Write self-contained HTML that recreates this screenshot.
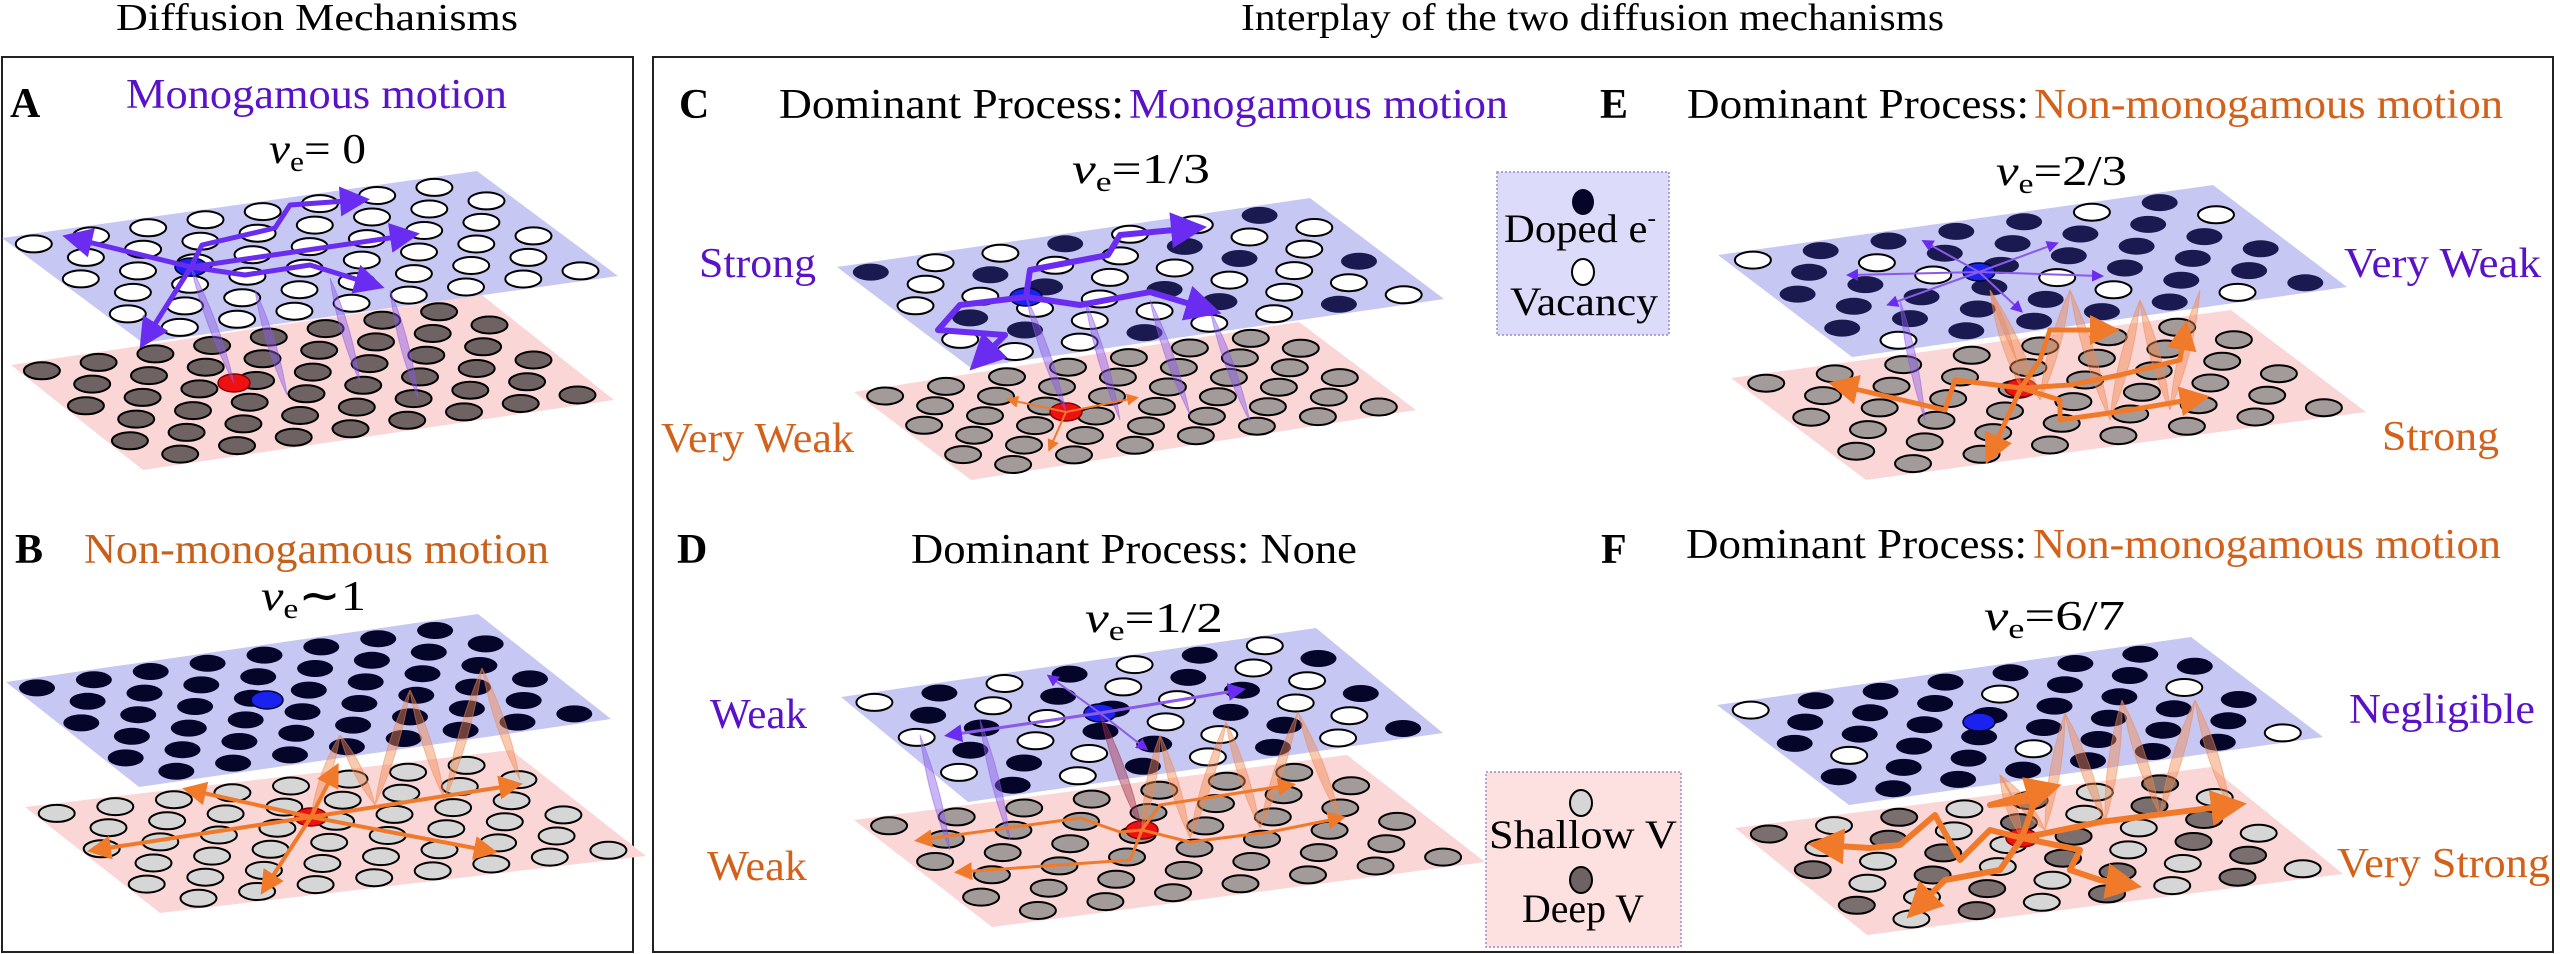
<!DOCTYPE html>
<html><head><meta charset="utf-8">
<style>
html,body{margin:0;padding:0;background:#fff;}
svg{display:block;}
svg text{font-family:"Liberation Serif","DejaVu Serif","Times New Roman",serif !important;}
</style></head>
<body>
<svg id="s" width="2560" height="954" viewBox="0 0 2560 954" xmlns="http://www.w3.org/2000/svg" font-family="Liberation Serif, DejaVu Serif, serif">
<defs>
<marker id="ap" markerWidth="6" markerHeight="6" refX="4" refY="3" orient="auto" markerUnits="strokeWidth"><path d="M0,0 L6,3 L0,6 z" fill="#6a2cf0"/></marker>
<marker id="ao" markerWidth="6" markerHeight="6" refX="4" refY="3" orient="auto" markerUnits="strokeWidth"><path d="M0,0 L6,3 L0,6 z" fill="#f07a2a"/></marker>
</defs>
<rect x="0" y="0" width="2560" height="954" fill="#fff"/>
<rect x="2" y="57" width="631" height="895" fill="none" stroke="#222" stroke-width="2"/>
<rect x="653" y="57" width="1900" height="895" fill="none" stroke="#222" stroke-width="2"/>
<g id="g"></g>
<g font-size="38">
<text x="116" y="30" textLength="402" lengthAdjust="spacingAndGlyphs">Diffusion Mechanisms</text>
<text x="1241" y="30" textLength="703" lengthAdjust="spacingAndGlyphs">Interplay of the two diffusion mechanisms</text>
</g>
<g font-size="42">
<text x="10" y="117" font-weight="bold">A</text>
<text x="126" y="108" fill="#5a12c8" textLength="381" lengthAdjust="spacingAndGlyphs">Monogamous motion</text>
<text x="269" y="163" textLength="97" lengthAdjust="spacingAndGlyphs"><tspan font-style="italic">ν</tspan><tspan font-size="28" dy="8">e</tspan><tspan dy="-8">= 0</tspan></text>

<text x="15" y="563" font-weight="bold">B</text>
<text x="84" y="563" fill="#c8601a" textLength="465" lengthAdjust="spacingAndGlyphs">Non-monogamous motion</text>
<text x="261" y="610" textLength="105" lengthAdjust="spacingAndGlyphs"><tspan font-style="italic">ν</tspan><tspan font-size="28" dy="8">e</tspan><tspan dy="-8" font-weight="bold">∼</tspan><tspan>1</tspan></text>

<text x="679" y="118" font-weight="bold">C</text>
<text x="779" y="118" textLength="345" lengthAdjust="spacingAndGlyphs">Dominant Process:</text>
<text x="1129" y="118" fill="#5a12c8" textLength="379" lengthAdjust="spacingAndGlyphs">Monogamous motion</text>
<text x="1072" y="183" textLength="138" lengthAdjust="spacingAndGlyphs"><tspan font-style="italic">ν</tspan><tspan font-size="28" dy="8">e</tspan><tspan dy="-8">=1/3</tspan></text>
<text x="699" y="277" fill="#5a12c8" textLength="117" lengthAdjust="spacingAndGlyphs">Strong</text>
<text x="661" y="452" fill="#d4611a" textLength="193" lengthAdjust="spacingAndGlyphs">Very Weak</text>

<text x="677" y="563" font-weight="bold">D</text>
<text x="911" y="563" textLength="446" lengthAdjust="spacingAndGlyphs">Dominant Process: None</text>
<text x="1085" y="632" textLength="138" lengthAdjust="spacingAndGlyphs"><tspan font-style="italic">ν</tspan><tspan font-size="28" dy="8">e</tspan><tspan dy="-8">=1/2</tspan></text>
<text x="710" y="728" fill="#5a12c8" textLength="97" lengthAdjust="spacingAndGlyphs">Weak</text>
<text x="707" y="880" fill="#d4611a" textLength="100" lengthAdjust="spacingAndGlyphs">Weak</text>

<text x="1600" y="118" font-weight="bold">E</text>
<text x="1687" y="118" textLength="342" lengthAdjust="spacingAndGlyphs">Dominant Process:</text>
<text x="2034" y="118" fill="#d4611a" textLength="469" lengthAdjust="spacingAndGlyphs">Non-monogamous motion</text>
<text x="1996" y="185" textLength="131" lengthAdjust="spacingAndGlyphs"><tspan font-style="italic">ν</tspan><tspan font-size="28" dy="8">e</tspan><tspan dy="-8">=2/3</tspan></text>
<text x="2344" y="277" fill="#5a12c8" textLength="197" lengthAdjust="spacingAndGlyphs">Very Weak</text>
<text x="2382" y="450" fill="#d4611a" textLength="117" lengthAdjust="spacingAndGlyphs">Strong</text>

<text x="1601" y="563" font-weight="bold">F</text>
<text x="1686" y="558" textLength="341" lengthAdjust="spacingAndGlyphs">Dominant Process:</text>
<text x="2033" y="558" fill="#d4611a" textLength="468" lengthAdjust="spacingAndGlyphs">Non-monogamous motion</text>
<text x="1984" y="630" textLength="141" lengthAdjust="spacingAndGlyphs"><tspan font-style="italic">ν</tspan><tspan font-size="28" dy="8">e</tspan><tspan dy="-8">=6/7</tspan></text>
<text x="2349" y="723" fill="#5a12c8" textLength="186" lengthAdjust="spacingAndGlyphs">Negligible</text>
<text x="2337" y="877" fill="#d4611a" textLength="213" lengthAdjust="spacingAndGlyphs">Very Strong</text>
</g>
<rect x="1497" y="172" width="172" height="163" fill="#dcdcfa" stroke="#9a8ac8" stroke-width="1.5" stroke-dasharray="2,2"/>
<ellipse cx="1583" cy="202" rx="11" ry="13" fill="#05052a"/>
<text x="1504" y="242" font-size="40" textLength="152" lengthAdjust="spacingAndGlyphs">Doped e<tspan font-size="24" dy="-16">-</tspan></text>
<ellipse cx="1583" cy="272" rx="11" ry="13" fill="#fff" stroke="#000" stroke-width="2"/>
<text x="1510" y="315" font-size="40" textLength="148" lengthAdjust="spacingAndGlyphs">Vacancy</text>
<rect x="1486" y="772" width="195" height="175" fill="#fde0e0" stroke="#9a8ac8" stroke-width="1.5" stroke-dasharray="2,2"/>
<ellipse cx="1581" cy="803" rx="11" ry="13" fill="#d6d6d6" stroke="#000" stroke-width="2"/>
<text x="1489" y="848" font-size="40" textLength="188" lengthAdjust="spacingAndGlyphs">Shallow V</text>
<ellipse cx="1581" cy="880" rx="11" ry="13" fill="#6e6262" stroke="#000" stroke-width="2"/>
<text x="1522" y="922" font-size="40" textLength="122" lengthAdjust="spacingAndGlyphs">Deep V</text>
</svg>
<script>
(function(){
var NS="http://www.w3.org/2000/svg",g=document.getElementById("g");
function el(t,a){var e=document.createElementNS(NS,t);for(var k in a)e.setAttribute(k,a[k]);g.appendChild(e);return e;}
function plane(L,TR,B,fill,op){var R=[TR[0]+B[0]-L[0],TR[1]+B[1]-L[1]];
 el("polygon",{points:L+" "+TR+" "+R+" "+B,fill:fill,"fill-opacity":op});}
function dots(L,TR,B,colf,stroke,N){var u=[TR[0]-L[0],TR[1]-L[1]],v=[B[0]-L[0],B[1]-L[1]];
 for(var j=0;j<6;j++)for(var i=0;i<N;i++){var s=(i+0.35+(j%2?0.5:0))/(N+0.3),t=(j+0.5)/6;if(s>0.97)continue;
  var x=L[0]+u[0]*s+v[0]*t,y=L[1]+u[1]*s+v[1]*t;var c=colf(i,j);
  var a={cx:x.toFixed(1),cy:y.toFixed(1),rx:18,ry:8.5,fill:c};
  if(stroke&&!(c=="#05052a"||c=="#1a1a50")){a.stroke="#000";a["stroke-width"]=2;}
  el("ellipse",a);}}
function tube(p,q,col,w){var mx=(p[0]+q[0])/2,my=(p[1]+q[1])/2,dx=q[0]-p[0],dy=q[1]-p[1],l=Math.hypot(dx,dy),nx=-dy/l*w,ny=dx/l*w;
 el("path",{d:"M"+p+" Q"+(mx+nx)+","+(my+ny)+" "+q+" Q"+(mx-nx)+","+(my-ny)+" "+p+"Z",fill:col,"fill-opacity":0.45,stroke:col,"stroke-opacity":0.5,"stroke-width":1});}
function zig(pts,col,w){for(var i=0;i<pts.length-1;i++)tube(pts[i],pts[i+1],col,w);}
function path(pts,col,w,m){el("polyline",{points:pts.join(" "),fill:"none",stroke:col,"stroke-width":w,"stroke-linejoin":"round","marker-end":"url(#"+m+")"});}
var TOP="#b9b9f0",BOT="#fbd6d6";
var WH=function(){return"#fff"},DK=function(){return"#05052a"},DG=function(){return"#6e6262"},LG=function(){return"#d6d6d6"},MG=function(){return"#a39a9a"};
var P=[
 {N:8,tL:[2,238],tTR:[477,171],tB:[143,343],bL:[11,365],bTR:[482,295],bB:[143,470],tc:WH,bc:DG,blue:[191,267],red:[234,383]},
 {N:8,tL:[6,682],tTR:[478,614],tB:[139,787],bL:[25,807],bTR:[511,750],bB:[160,913],tc:DK,bc:LG,blue:[267,700],red:[311,817]},
 {N:7,tL:[837,267],tTR:[1310,198],tB:[971,368],bL:[854,392],bTR:[1299,322],bB:[971,480],tc:function(i,j){return (i+2*j)%3==0?"#1a1a50":"#fff"},bc:MG,blue:[1026,297],red:[1066,412]},
 {N:7,tL:[841,697],tTR:[1316,628],tB:[968,802],bL:[854,820],bTR:[1347,755],bB:[992,927],tc:function(i,j){return (i+j)%2?"#05052a":"#fff"},bc:MG,blue:[1100,713],red:[1142,830]},
 {N:7,tL:[1718,255],tTR:[2213,185],tB:[1852,357],bL:[1731,378],bTR:[2231,310],bB:[1866,480],tc:function(i,j){return (i*7+j*3)%5==0?"#fff":"#1a1a50"},bc:MG,blue:[1979,272],red:[2021,388]},
 {N:7,tL:[1717,705],tTR:[2191,637],tB:[1849,805],bL:[1735,828],bTR:[2211,767],bB:[1867,935],tc:function(i,j){return (i*5+j*3)%9==0?"#fff":"#05052a"},bc:function(i,j){return (i+j)%2?"#d6d6d6":"#7a6e6e"},blue:[1979,722],red:[2022,838]}
];
P.forEach(function(p){
 plane(p.bL,p.bTR,p.bB,BOT,1);dots(p.bL,p.bTR,p.bB,p.bc,true,p.N);
 plane(p.tL,p.tTR,p.tB,TOP,0.8);dots(p.tL,p.tTR,p.tB,p.tc,true,p.N);
 el("ellipse",{cx:p.red[0],cy:p.red[1],rx:16,ry:9,fill:"#ee1111",stroke:"#800","stroke-width":1.5});
 el("ellipse",{cx:p.blue[0],cy:p.blue[1],rx:16,ry:9,fill:"#1a22ee",stroke:"#003","stroke-width":1.5});
});
var PU="#8a5ae8",OR="#f08a50";
[[[191,267],[234,383]],[[255,290],[287,395]],[[330,278],[360,382]],[[390,290],[418,398]]].forEach(function(t){tube(t[0],t[1],PU,8)});
path([[191,267],[72,238]],"#6a2cf0",5,"ap");
path([[191,267],[202,245],[275,228],[290,205],[360,200]],"#6a2cf0",5,"ap");
path([[191,267],[410,235]],"#6a2cf0",5,"ap");
path([[191,267],[245,275],[310,265],[375,285]],"#6a2cf0",5,"ap");
path([[191,267],[145,340]],"#6a2cf0",5,"ap");
zig([[311,817],[340,735],[375,805],[410,690],[445,800],[482,668],[520,780]],OR,9);
[[[311,817],[95,850]],[[311,817],[190,790]],[[311,817],[335,770]],[[311,817],[515,785]],[[311,817],[490,851]],[[311,817],[265,888]]].forEach(function(t){path(t,"#f07a2a",4,"ao")});
[[[1026,297],[1066,412]],[[1085,300],[1120,420]],[[1150,300],[1190,415]],[[1210,310],[1250,422]]].forEach(function(t){tube(t[0],t[1],PU,8)});
path([[1026,297],[960,305],[938,330],[1005,335],[978,362]],"#6a2cf0",6,"ap");
path([[1026,297],[1030,270],[1108,255],[1120,235],[1195,228]],"#6a2cf0",6,"ap");
path([[1026,297],[1080,305],[1150,292],[1210,310]],"#6a2cf0",6,"ap");
[[[1066,412],[1010,400]],[[1066,412],[1135,398]],[[1066,412],[1050,448]]].forEach(function(t){path(t,"#f07a2a",2,"ao")});
tube([920,735],[950,850],PU,8);tube([980,720],[1010,840],PU,8);tube([1100,713],[1142,830],"#a0304a",9);
zig([[1142,830],[1160,735],[1190,838],[1226,722],[1260,828],[1298,712],[1340,818]],OR,9);
path([[1100,713],[950,735]],"#8a5ae8",3,"ap");path([[1100,713],[1240,690]],"#8a5ae8",3,"ap");
path([[1100,713],[1050,677]],"#8a5ae8",2,"ap");path([[1100,713],[1145,748]],"#8a5ae8",2,"ap");
path([[1142,830],[1120,832],[1080,818],[920,840]],"#f07a2a",3,"ao");
path([[1142,830],[1130,860],[960,872]],"#f07a2a",3,"ao");
path([[1142,830],[1190,842],[1270,832],[1340,818]],"#f07a2a",3,"ao");
path([[1142,830],[1160,805],[1290,785]],"#f07a2a",3,"ao");
tube([1900,300],[1925,420],PU,8);
zig([[2021,388],[1990,290],[2040,400],[2070,290],[2110,420],[2140,300],[2170,410],[2200,290]],OR,10);
path([[1979,272],[1850,275]],"#8a5ae8",2,"ap");path([[1979,272],[2100,276]],"#8a5ae8",2,"ap");
path([[1979,272],[1925,242]],"#8a5ae8",2,"ap");path([[1979,272],[2055,244]],"#8a5ae8",2,"ap");
path([[1979,272],[1890,304]],"#8a5ae8",2,"ap");path([[1979,272],[2020,310]],"#8a5ae8",2,"ap");
path([[2021,388],[1955,380],[1945,410],[1838,385]],"#f07a2a",5,"ao");
path([[2021,388],[2040,360],[2050,330],[2110,330]],"#f07a2a",5,"ao");
path([[2021,388],[2070,385],[2120,375],[2180,360],[2185,330]],"#f07a2a",5,"ao");
path([[2021,388],[2060,400],[2060,420],[2130,410],[2200,398]],"#f07a2a",5,"ao");
path([[2021,388],[1990,455]],"#f07a2a",5,"ao");
zig([[2022,838],[2000,775],[2045,830],[2065,713],[2105,822],[2122,700],[2160,815],[2195,700],[2230,808]],OR,10);
path([[2022,838],[1990,830],[1960,860],[1935,815],[1900,845],[1870,848],[1820,845]],"#f07a2a",6,"ao");
path([[2022,838],[2035,800],[1990,805],[2050,788]],"#f07a2a",6,"ao");
path([[2022,838],[2100,822],[2155,815],[2235,805]],"#f07a2a",6,"ao");
path([[2022,838],[2080,850],[2070,870],[2100,880],[2130,885]],"#f07a2a",6,"ao");
path([[2022,838],[2000,870],[1945,880],[1915,910]],"#f07a2a",6,"ao");
})();
</script>
</body></html>
